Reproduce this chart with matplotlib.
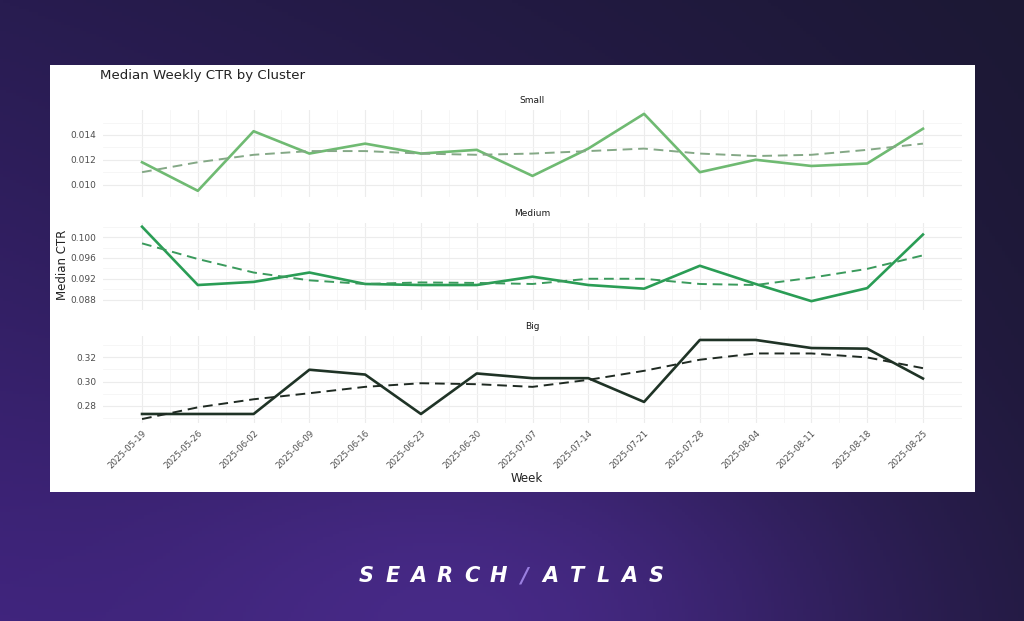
import numpy as np
import pandas as pd
import matplotlib
matplotlib.use("Agg")
import matplotlib.pyplot as plt
from matplotlib.patches import Rectangle

# weeks and medians
weeks = pd.date_range("2025-05-19", "2025-08-25", freq="7D")
week_labels = [d.strftime("%Y-%m-%d") for d in weeks]

small_ctr = [0.0118, 0.0095, 0.0143, 0.0125, 0.0133, 0.0125, 0.0128, 0.0107,
             0.0129, 0.0157, 0.0110, 0.0120, 0.0115, 0.0117, 0.0145]
small_trend = [0.0110, 0.0118, 0.0124, 0.0127, 0.0127, 0.0125, 0.0124, 0.0125,
               0.0127, 0.0129, 0.0125, 0.0123, 0.0124, 0.0128, 0.0133]

medium_ctr = [0.1020, 0.0908, 0.0914, 0.0932, 0.0910, 0.0908, 0.0908, 0.0924,
              0.0908, 0.0901, 0.0945, 0.0910, 0.0877, 0.0902, 0.1005]
medium_trend = [0.0988, 0.0958, 0.0932, 0.0917, 0.0910, 0.0913, 0.0912, 0.0910,
                0.0920, 0.0920, 0.0910, 0.0908, 0.0922, 0.0939, 0.0965]

big_ctr = [0.2731, 0.2731, 0.2731, 0.3098, 0.3058, 0.2731, 0.3067, 0.3028,
           0.3028, 0.2831, 0.3345, 0.3345, 0.3278, 0.3273, 0.3025]
big_trend = [0.2689, 0.2786, 0.2853, 0.2903, 0.2956, 0.2986, 0.2978, 0.2956,
             0.3014, 0.3089, 0.3181, 0.3233, 0.3233, 0.3200, 0.3111]

clusters = ["Small", "Medium", "Big"]
colors = ["#6fba72", "#2a9d55", "#1f3326"]
trend_colors = ["#84a886", "#3a9a5c", "#1f2a22"]
y_ticks = [[0.010, 0.012, 0.014], [0.088, 0.092, 0.096, 0.100], [0.28, 0.30, 0.32]]
y_fmt = ["{:.3f}", "{:.3f}", "{:.2f}"]

fig = plt.figure(figsize=(10.24, 6.21), dpi=100)

# purple gradient background
bg = fig.add_axes([0, 0, 1, 1])
bg.set_axis_off()
h, w = 200, 320
yy, xx = np.mgrid[0:1:h * 1j, 0:1:w * 1j]
tl = np.array([0x28, 0x1c, 0x50]) / 255
tr = np.array([0x1c, 0x18, 0x34]) / 255
bl = np.array([0x3e, 0x23, 0x7a]) / 255
br = np.array([0x22, 0x1a, 0x40]) / 255
xx3, yy3 = xx[..., None], yy[..., None]
img = (tl * (1 - xx3) * (1 - yy3) + tr * xx3 * (1 - yy3)
       + bl * (1 - xx3) * yy3 + br * xx3 * yy3)
glow = np.exp(-(((xx - 0.45) / 0.35) ** 2 + ((yy - 1.0) / 0.35) ** 2))[..., None]
img = img + glow * (np.array([0x4c, 0x2c, 0x90]) / 255 - img) * 0.8
bg.imshow(np.clip(img, 0, 1), extent=[0, 1, 0, 1], aspect="auto", origin="upper")
bg.set_xlim(0, 1)
bg.set_ylim(0, 1)

# white chart card
bg.add_patch(Rectangle((50 / 1024, 1 - 492 / 621), 925 / 1024, 427 / 621,
                       facecolor="white", edgecolor="none"))

fig.text(100 / 1024, 1 - 76 / 621, "Median Weekly CTR by Cluster", fontsize=9.6,
         color="#222222", va="center", ha="left")

panel_tops = [110, 223, 336]
panel_h = 87
left, right = 103, 962
series = [(small_ctr, small_trend), (medium_ctr, medium_trend), (big_ctr, big_trend)]

for i, name in enumerate(clusters):
    top = panel_tops[i]
    ax = fig.add_axes([left / 1024, 1 - (top + panel_h) / 621,
                       (right - left) / 1024, panel_h / 621])
    ax.set_facecolor("white")
    vals, trend = series[i]
    ax.plot(weeks, vals, color=colors[i], lw=1.9, zorder=3)
    ax.plot(weeks, trend, color=trend_colors[i], lw=1.4, ls=(0, (5, 3)), zorder=3)
    ax.margins(x=0.05, y=0.05)
    yt = y_ticks[i]
    ax.set_yticks(yt)
    ax.set_yticklabels([y_fmt[i].format(v) for v in yt])
    step = yt[1] - yt[0]
    ax.set_yticks([v + step / 2 for v in [yt[0] - step] + yt], minor=True)
    ax.set_xticks(weeks)
    mids = weeks[:-1] + pd.Timedelta(days=3.5)
    ax.set_xticks(mids, minor=True)
    ax.grid(True, which="major", color="#ececec", lw=0.8)
    ax.grid(True, which="minor", color="#f5f5f5", lw=0.6)
    ax.set_axisbelow(True)
    for s in ax.spines.values():
        s.set_visible(False)
    ax.tick_params(axis="both", which="both", length=0)
    ax.tick_params(axis="y", labelsize=6.5, labelcolor="#4d4d4d", pad=5)
    if i < 2:
        ax.tick_params(axis="x", labelbottom=False)
    else:
        ax.set_xticklabels(week_labels, rotation=45, ha="right",
                           rotation_mode="anchor")
        ax.tick_params(axis="x", labelsize=6.2, labelcolor="#4d4d4d", pad=4)
    ax.set_title(name, fontsize=6.5, color="#1a1a1a", pad=5)

fig.text(62 / 1024, 1 - 265 / 621, "Median CTR", rotation=90, fontsize=8.5,
         color="#222222", ha="center", va="center")
fig.text(527 / 1024, 1 - 479 / 621, "Week", fontsize=8.5, color="#222222",
         ha="center", va="center")

# logo
logo = "SEARCH/ATLAS"
x0, x1 = 366, 656
for k, ch in enumerate(logo):
    xc = x0 + (x1 - x0) * k / (len(logo) - 1)
    col = "#9a7fe0" if ch == "/" else "white"
    fig.text(xc / 1024, 1 - 576 / 621, ch, fontsize=15, fontweight="bold",
             style="italic", color=col, ha="center", va="center",
             family="DejaVu Sans")

fig.savefig("out.png", dpi=100)
